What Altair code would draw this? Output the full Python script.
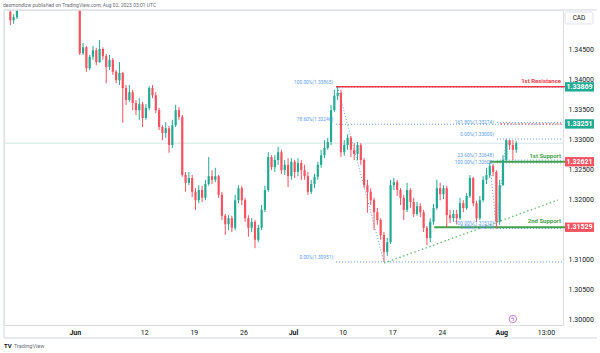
import altair as alt
import pandas as pd

# ---------------- data (USDCAD, 8h-ish bars) ----------------
BARS_PER_DAY = 3

a_start_day = -6.5
a_first_open = 1.3512
a_close = [1.3498, 1.3503, 1.3518]
a_high = [1.3515, 1.3508, 1.3523]
a_low = [1.3490, 1.3492, 1.3500]

b_start_day = 0.5
b_first_open = 1.3560
b_close = [
    1.3443, 1.3453, 1.3418, 1.3437, 1.3448, 1.3428, 1.3450, 1.3438, 1.3420, 1.3432,
    1.3412, 1.3398, 1.3410, 1.3385, 1.3365, 1.3378, 1.3360, 1.3348, 1.3358, 1.3335,
    1.3352, 1.3385, 1.3373, 1.3348, 1.3320, 1.3310, 1.3318, 1.3290, 1.3323, 1.3348,
    1.3337, 1.3240, 1.3227, 1.3235, 1.3212, 1.3198, 1.3215, 1.3202, 1.3225, 1.3238,
    1.3232, 1.3238, 1.3207, 1.3172, 1.3158, 1.3168, 1.3152, 1.3198, 1.3218, 1.3198,
    1.3168, 1.3152, 1.3162, 1.3132, 1.3152, 1.3182, 1.3215, 1.3270, 1.3253, 1.3265,
    1.3278, 1.3248, 1.3257, 1.3238, 1.3262, 1.3245, 1.3260, 1.3248, 1.3238, 1.3212,
    1.3225, 1.3237, 1.3257, 1.3273, 1.3285, 1.3295, 1.3348, 1.3372, 1.3377, 1.3278,
    1.3290, 1.3302, 1.3282, 1.3275, 1.3290, 1.3265, 1.3223, 1.3212, 1.3198, 1.3178,
    1.3165, 1.3140, 1.3112, 1.3128, 1.3223, 1.3228, 1.3215, 1.3202, 1.3182, 1.3215,
    1.3195, 1.3175, 1.3188, 1.3178, 1.3152, 1.3135, 1.3162, 1.3185, 1.3218, 1.3208,
    1.3218, 1.3173, 1.3168, 1.3175, 1.3168, 1.3193, 1.3185, 1.3205, 1.3235, 1.3193,
    1.3168, 1.3198, 1.3232, 1.3240, 1.3255, 1.3245, 1.3162, 1.3223, 1.3265, 1.3298,
    1.3290, 1.3282, 1.3293,
]
b_high = [
    1.3565, 1.3460, 1.3455, 1.3440, 1.3455, 1.3452, 1.3465, 1.3453, 1.3442, 1.3440,
    1.3435, 1.3415, 1.3428, 1.3412, 1.3390, 1.3390, 1.3382, 1.3365, 1.3368, 1.3362,
    1.3358, 1.3388, 1.3390, 1.3378, 1.3352, 1.3323, 1.3328, 1.3322, 1.3332, 1.3357,
    1.3353, 1.3340, 1.3245, 1.3245, 1.3240, 1.3218, 1.3223, 1.3222, 1.3232, 1.3270,
    1.3248, 1.3252, 1.3240, 1.3212, 1.3175, 1.3173, 1.3172, 1.3207, 1.3223, 1.3222,
    1.3202, 1.3173, 1.3168, 1.3165, 1.3157, 1.3190, 1.3222, 1.3278, 1.3273, 1.3273,
    1.3287, 1.3282, 1.3265, 1.3268, 1.3268, 1.3265, 1.3268, 1.3265, 1.3257, 1.3245,
    1.3232, 1.3242, 1.3262, 1.3282, 1.3298, 1.3302, 1.3357, 1.3382, 1.33865, 1.3382,
    1.3298, 1.3308, 1.3305, 1.3293, 1.3295, 1.3293, 1.3268, 1.3232, 1.3218, 1.3202,
    1.3185, 1.3168, 1.3145, 1.3135, 1.3232, 1.3235, 1.3232, 1.3218, 1.3207, 1.3227,
    1.3218, 1.3202, 1.3195, 1.3193, 1.3182, 1.3155, 1.3168, 1.3192, 1.3232, 1.3227,
    1.3223, 1.3222, 1.3182, 1.3182, 1.3182, 1.3202, 1.3198, 1.3210, 1.3240, 1.3237,
    1.3197, 1.3205, 1.3238, 1.3252, 1.3260, 1.3258, 1.3248, 1.3232, 1.3273, 1.3300,
    1.3298, 1.3298, 1.3297,
]
b_low = [
    1.3440, 1.3440, 1.3412, 1.3415, 1.3432, 1.3423, 1.3427, 1.3432, 1.3393, 1.3415,
    1.3407, 1.3393, 1.3390, 1.3327, 1.3357, 1.3362, 1.3348, 1.3340, 1.3332, 1.3320,
    1.3332, 1.3348, 1.3368, 1.3343, 1.3315, 1.3298, 1.3302, 1.3277, 1.3285, 1.3320,
    1.3332, 1.3237, 1.3212, 1.3223, 1.3203, 1.3182, 1.3193, 1.3195, 1.3198, 1.3222,
    1.3225, 1.3228, 1.3202, 1.3165, 1.3140, 1.3148, 1.3145, 1.3148, 1.3193, 1.3190,
    1.3162, 1.3137, 1.3145, 1.3118, 1.3128, 1.3148, 1.3178, 1.3212, 1.3248, 1.3245,
    1.3257, 1.3242, 1.3240, 1.3220, 1.3232, 1.3235, 1.3238, 1.3232, 1.3232, 1.3207,
    1.3208, 1.3218, 1.3232, 1.3252, 1.3268, 1.3282, 1.3290, 1.3345, 1.3365, 1.3270,
    1.3272, 1.3282, 1.3270, 1.3265, 1.3265, 1.3257, 1.3218, 1.3177, 1.3190, 1.3148,
    1.3157, 1.3132, 1.30951, 1.3105, 1.3125, 1.3215, 1.3205, 1.3190, 1.3165, 1.3178,
    1.3185, 1.3170, 1.3172, 1.3170, 1.3145, 1.3123, 1.3128, 1.3157, 1.3182, 1.3198,
    1.3200, 1.3153, 1.3160, 1.3162, 1.3158, 1.3165, 1.3178, 1.3182, 1.3202, 1.3188,
    1.3162, 1.3165, 1.3195, 1.3225, 1.3235, 1.3238, 1.3151, 1.3157, 1.3222, 1.3262,
    1.3282, 1.3265, 1.3277,
]

# time axis (trading days from Jun 1)
tick_days = [0, 7, 12, 17, 22, 27, 32, 37, 43, 47.5]
tick_labels = ["Jun", "12", "19", "26", "Jul", "10", "17", "24", "Aug", "13:00"]
month_days = [0, 22, 43]
price_ticks = [1.300, 1.305, 1.310, 1.320, 1.325, 1.330, 1.335, 1.340, 1.345]

# horizontal levels
resist_price = [1.33869]
resist_start = [26.34]
resist_name = ["1st Resistance"]
support_price = [1.32621, 1.31529]
support_start = [41.83, 36.24]
support_name = ["1st Support", "2nd Support"]
target_price = [1.33251]
target_start = [42.9]

box_price = [1.33869, 1.33251, 1.32621, 1.31529]
box_kind = ["res", "res", "sup", "sup"]

# fibonacci tools
fib_line_price = [1.33865, 1.33246, 1.30951, 1.33000, 1.32648, 1.31510, 1.33274, 1.32600]
fib_line_start = [26.34, 26.34, 26.34, 42.55, 42.55, 42.55, 42.55, 42.55]
fib_above_text = ["100.00%(1.33865)", "78.60%(1.33246)", "0.00%(1.30951)",
                  "0.00%(1.33000)", "23.60%(1.32648)", "100.00%(1.31510)"]
fib_above_price = [1.33865, 1.33246, 1.30951, 1.33000, 1.32648, 1.31510]
fib_above_day = [26.34, 26.34, 26.34, 42.55, 42.55, 42.55]
fib_mid_text = ["161.80%(1.33274)", "100.00%(1.32600)", "0.00%(1.31510)"]
fib_mid_price = [1.33274, 1.32600, 1.31510]
fib_mid_day = [42.55, 42.55, 42.55]
diag_x0 = [26.5, 42.5, 41.833]
diag_y0 = [1.33865, 1.31510, 1.32600]
diag_x1 = [31.167, 43.5, 42.5]
diag_y1 = [1.30951, 1.33000, 1.31510]
trend_x0, trend_y0, trend_x1, trend_y1 = [31.19], [1.30933], [48.713], [1.31983]

event_day = [44.16]
event_price = [1.3000]

header = "desmondlzw published on TradingView.com, Aug 02, 2023 03:01 UTC"

# ---------------- tables ----------------
def build(start, first_open, close, high, low):
    opens = [first_open] + close[:-1]
    rows = []
    for i, (o, c, h, l) in enumerate(zip(opens, close, high, low)):
        rows.append(dict(day=start + i / BARS_PER_DAY, open=o, close=c, high=h, low=l,
                         dir="up" if c >= o else "down"))
    return rows

candles = pd.DataFrame(build(a_start_day, a_first_open, a_close, a_high, a_low)
                       + build(b_start_day, b_first_open, b_close, b_high, b_low))
last_close = candles["close"].iloc[-1]

# ---------------- styles ----------------
W, H = 559, 315
X_MIN, X_MAX = -6.634, 48.713
Y_MIN, Y_MAX = 1.2990, 1.3515
UP, DOWN = "#22ab94", "#f7525f"
RED, GREEN, GREEN_LINE = "#f23645", "#3a8f3f", "#43a047"
BLUE = "#5d9cec"
FONT = "Roboto"

xs = alt.Scale(domain=[X_MIN, X_MAX], nice=False, zero=False)
ys = alt.Scale(domain=[Y_MIN, Y_MAX], nice=False, zero=False)

label_expr = " : ".join(f"datum.value == {d} ? '{t}'" for d, t in zip(tick_days, tick_labels)) + " : ''"
bold_test = " || ".join(f"datum.value == {d}" for d in month_days)
x_axis = alt.Axis(values=tick_days, labelExpr=label_expr, title=None, domain=False, ticks=False,
                  grid=False, labelPadding=3, labelFontSize=7, labelColor="#131722", labelFont=FONT,
                  labelFlush=False, labelOverlap=False,
                  labelFontWeight={"condition": {"test": bold_test, "value": "bold"}, "value": "normal"})
y_axis = alt.Axis(values=price_ticks, format=".5f", orient="right", title=None, domain=False,
                  ticks=False, grid=False, labelPadding=5, labelFontSize=7, labelColor="#131722",
                  labelFont=FONT, labelOverlap=False)


def X(f):
    return alt.X(f, type="quantitative", scale=xs, axis=x_axis)


def Y(f):
    return alt.Y(f, type="quantitative", scale=ys, axis=y_axis)


dir_color = alt.Color("dir:N", scale=alt.Scale(domain=["up", "down"], range=[UP, DOWN]), legend=None)
one = pd.DataFrame({"k": [0]})

# ---------------- layers ----------------
cur_line = alt.Chart(pd.DataFrame({"price": [last_close]})).mark_rule(
    color="#cfe6e3", strokeWidth=1).encode(x=alt.value(0), x2=alt.value(W), y=Y("price"))

wicks = alt.Chart(candles).mark_rule(strokeWidth=1, clip=True).encode(
    x=X("day"), y=Y("low"), y2="high", color=dir_color)
bodies = alt.Chart(candles).mark_bar(size=2.2, clip=True).encode(
    x=X("day"), y=Y("open"), y2="close", color=dir_color)

fib_df = pd.DataFrame({"price": fib_line_price, "start": fib_line_start})
fib_lines = alt.Chart(fib_df).mark_rule(color=BLUE, strokeWidth=1, strokeDash=[1, 2]).encode(
    x=X("start"), x2=alt.value(W), y=Y("price"))
diag_df = pd.DataFrame({"x0": diag_x0, "y0": diag_y0, "x1": diag_x1, "y1": diag_y1})
diag = alt.Chart(diag_df).mark_rule(color=BLUE, strokeWidth=1, strokeDash=[1, 2]).encode(
    x=X("x0"), y=Y("y0"), x2="x1", y2="y1")
trend_df = pd.DataFrame({"x0": trend_x0, "y0": trend_y0, "x1": trend_x1, "y1": trend_y1})
trend = alt.Chart(trend_df).mark_rule(color="#66bb6a", strokeWidth=1.3, strokeDash=[1.5, 2.5]).encode(
    x=X("x0"), y=Y("y0"), x2="x1", y2="y1")

fa_df = pd.DataFrame({"t": fib_above_text, "price": fib_above_price, "day": fib_above_day})
fib_above = alt.Chart(fa_df).mark_text(color=BLUE, fontSize=4.8, font=FONT, align="right",
                                       baseline="bottom", dx=-3, dy=-2).encode(
    x=X("day"), y=Y("price"), text="t:N")
fm_df = pd.DataFrame({"t": fib_mid_text, "price": fib_mid_price, "day": fib_mid_day})
fib_mid = alt.Chart(fm_df).mark_text(color=BLUE, fontSize=4.8, font=FONT, align="right",
                                     baseline="middle", dx=-3).encode(
    x=X("day"), y=Y("price"), text="t:N")

tgt_df = pd.DataFrame({"price": target_price, "start": target_start})
target = alt.Chart(tgt_df).mark_rule(color=RED, strokeWidth=1, strokeDash=[1.5, 2]).encode(
    x=X("start"), x2=alt.value(W), y=Y("price"))

res_df = pd.DataFrame({"price": resist_price, "start": resist_start, "name": resist_name})
res_line = alt.Chart(res_df).mark_rule(color=RED, strokeWidth=1.5).encode(
    x=X("start"), x2=alt.value(561), y=Y("price"))
res_text = alt.Chart(res_df).mark_text(color=RED, fontSize=6, fontWeight="bold", font=FONT,
                                       align="right", baseline="bottom", dy=-3).encode(
    x=alt.value(557), y=Y("price"), text="name:N")

sup_df = pd.DataFrame({"price": support_price, "start": support_start, "name": support_name})
sup_line = alt.Chart(sup_df).mark_rule(color=GREEN_LINE, strokeWidth=1.8).encode(
    x=X("start"), x2=alt.value(561), y=Y("price"))
sup_text = alt.Chart(sup_df).mark_text(color=GREEN_LINE, fontSize=6, fontWeight="bold", font=FONT,
                                       align="right", baseline="bottom", dy=-3).encode(
    x=alt.value(557), y=Y("price"), text="name:N")

box_df = pd.DataFrame({"price": box_price, "kind": box_kind,
                       "label": [f"{p:.5f}" for p in box_price]})
kind_color = alt.Color("kind:N", scale=alt.Scale(domain=["res", "sup"], range=[RED, GREEN]), legend=None)
boxes = alt.Chart(box_df).transform_calculate(
    top="datum.price + 0.00078", bot="datum.price - 0.00078").mark_rect(clip=False).encode(
    x=alt.value(561), x2=alt.value(590), y=Y("top"), y2="bot", color=kind_color)
box_text = alt.Chart(box_df).mark_text(color="white", fontSize=7, fontWeight="bold", font=FONT,
                                       align="center", baseline="middle").encode(
    x=alt.value(575.5), y=Y("price"), text="label:N")

ev_df = pd.DataFrame({"day": event_day, "price": event_price, "g": ["ϟ"]})
ev_circle = alt.Chart(ev_df).mark_point(shape="circle", size=55, filled=False, color="#ab47bc",
                                        strokeWidth=1).encode(x=X("day"), y=Y("price"))
ev_glyph = alt.Chart(ev_df).mark_text(color="#ab47bc", fontSize=6, font="DejaVu Sans",
                                      baseline="middle").encode(x=X("day"), y=Y("price"), text="g:N")

frame = alt.Chart(pd.DataFrame({"k": [0, 1]})).mark_rule(color="#e0e3eb", strokeWidth=1)
frame_top = frame.encode(x=alt.value(0), x2=alt.value(593), y=alt.value(0))
frame_bot = frame.encode(x=alt.value(0), x2=alt.value(593), y=alt.value(328))
frame_left = frame.encode(x=alt.value(0), y=alt.value(0), y2=alt.value(328))

cad_box = alt.Chart(one).mark_rect(fill="white", stroke="#e0e3eb", cornerRadius=2).encode(
    x=alt.value(561), x2=alt.value(589), y=alt.value(2), y2=alt.value(14))
cad_text = alt.Chart(pd.DataFrame({"t": ["CAD"]})).mark_text(
    fontSize=6.5, font=FONT, color="#131722", align="center", baseline="middle").encode(
    x=alt.value(575), y=alt.value(8), text="t:N")

head = alt.Chart(pd.DataFrame({"t": [header]})).mark_text(
    fontSize=5, font=FONT, color="#6a6d78", align="left", baseline="middle").encode(
    x=alt.value(-1), y=alt.value(-5), text="t:N")
foot_logo = alt.Chart(pd.DataFrame({"t": ["TV"]})).mark_text(
    fontSize=6, font=FONT, fontWeight="bold", color="#131722", align="left", baseline="middle").encode(
    x=alt.value(0), y=alt.value(336), text="t:N")
foot_name = alt.Chart(pd.DataFrame({"t": ["TradingView"]})).mark_text(
    fontSize=5.5, font=FONT, color="#6a6d78", align="left", baseline="middle").encode(
    x=alt.value(10), y=alt.value(336), text="t:N")

chart = alt.layer(
    cur_line, fib_lines, target, diag, trend, res_line, sup_line,
    wicks, bodies,
    fib_above, fib_mid, res_text, sup_text, boxes, box_text,
    ev_circle, ev_glyph, frame_top, frame_bot, frame_left,
    cad_box, cad_text, head, foot_logo, foot_name,
).properties(
    width=W, height=H,
    autosize=alt.AutoSizeParams(type="none"),
    padding={"left": 4, "top": 10, "right": 37, "bottom": 28},
    background="white",
).configure_view(stroke=None).configure(font=FONT)

chart.save("out.html", embed_options={"renderer": "svg", "actions": False})
